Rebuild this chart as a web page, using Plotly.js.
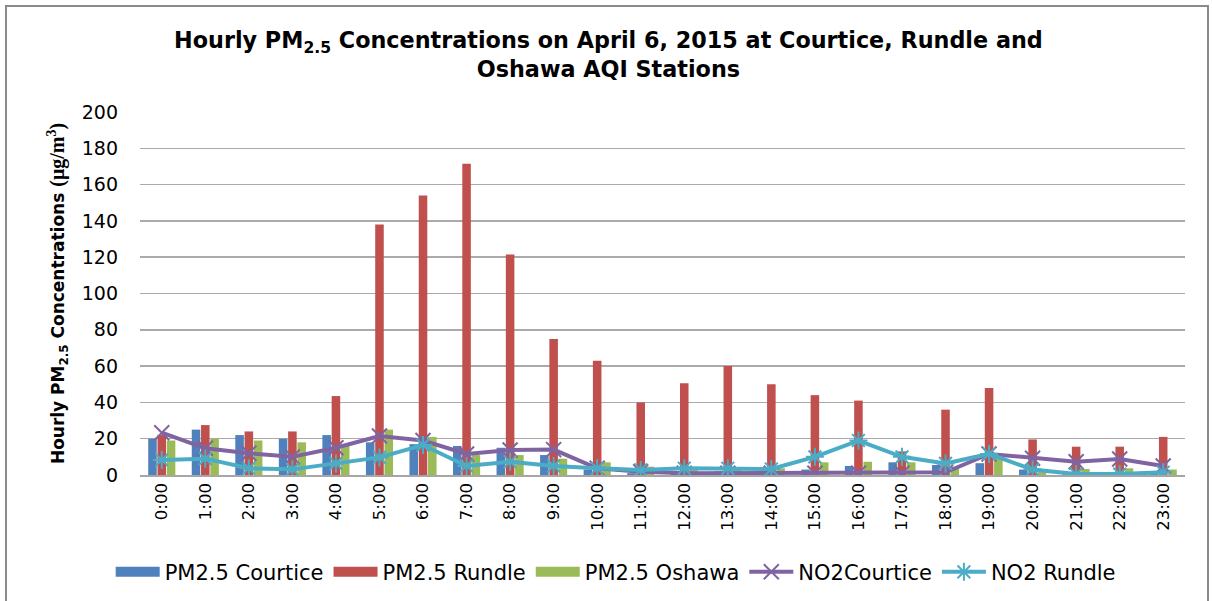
<!DOCTYPE html>
<html>
<head>
<meta charset="utf-8">
<script src="https://cdn.plot.ly/plotly-3.0.1.min.js"></script>
<style>
  html, body { margin: 0; padding: 0; background: #fff; }
  #wrap { position: relative; width: 1212px; height: 601px; }
  #chart { position: absolute; left: 0; top: 0; width: 1212px; height: 601px; }
  #frame { position: absolute; left: 5px; top: 5px; width: 1204px; height: 600px; border: 2px solid #8a8a8a; border-bottom: none; box-sizing: border-box; pointer-events: none; }
</style>
</head>
<body>
<div id="wrap">
  <div id="chart"></div>
  <div id="frame"></div>
</div>
<script>
const hours = ["0:00","1:00","2:00","3:00","4:00","5:00","6:00","7:00","8:00","9:00","10:00","11:00",
               "12:00","13:00","14:00","15:00","16:00","17:00","18:00","19:00","20:00","21:00","22:00","23:00"];
const pmCourtice = [20,25,22,20,22,18,17,16,15,11,3,1,2,2,2,3,5,7,5.5,6.5,3,1,1,1];
const pmRundle   = [22,27.5,24,24,43.5,138,154,171.5,121.5,75,63,40,50.5,60,50,44,41,13,36,48,19.6,15.6,15.6,21];
const pmOshawa   = [19,20,19,18,16,25,21,11,11,9,7,4.6,3.5,3.5,3.7,7,7.3,7,4.5,10,3.3,3.3,3.7,3];
const no2Courtice = [23.3,14.7,12,10,15,21.5,19,11.6,13.8,14,3.7,1.8,1,1,1,1,1,1,1.5,11.6,9.2,7.3,8.8,5];
const no2Rundle   = [8.3,9,3.7,3.1,6.4,9.7,16.5,5,7.3,5,3.7,2.8,3.7,3.7,3.3,10,19,10,6.4,11.6,3,0.5,0.5,1.5];
const yTicks = [0,20,40,60,80,100,120,140,160,180,200];
const barNames = ['PM2.5 Courtice','PM2.5 Rundle','PM2.5 Oshawa'];
const barColors = ['#4F81BD','#C0504D','#9BBB59'];

const FONT = "'DejaVu Sans', sans-serif";
const barSeries = [pmCourtice, pmRundle, pmOshawa];

const traces = [];
barSeries.forEach((ys, i) => {
  traces.push({type:'bar', name:barNames[i], x:hours, y:ys, marker:{color:barColors[i]},
               legendgroup:'g'+i, showlegend:false});
});
// legend swatches for the bar series (wide flat rectangles as in the reference)
barSeries.forEach((ys, i) => {
  traces.push({type:'scatter', mode:'lines', name:barNames[i], x:[null], y:[null],
               line:{color:barColors[i], width:10}, legendgroup:'g'+i, showlegend:true,
               hoverinfo:'skip'});
});
traces.push({type:'scatter', mode:'lines+markers', name:'NO2Courtice', x:hours, y:no2Courtice,
   line:{color:'#8064A2', width:4},
   marker:{symbol:'x-thin-open', size:15, color:'#8064A2', line:{color:'#8064A2', width:2}}});
traces.push({type:'scatter', mode:'lines+markers', name:'NO2 Rundle', x:hours, y:no2Rundle,
   line:{color:'#4BACC6', width:4},
   marker:{symbol:'asterisk-open', size:15, color:'#4BACC6', line:{color:'#4BACC6', width:2}}});

const layout = {
  width:1212, height:601,
  paper_bgcolor:'#ffffff', plot_bgcolor:'#ffffff',
  margin:{l:140, r:27, t:112, b:126},
  font:{family:FONT, color:'#000000', size:18},
  title:{
    text:'<b>Hourly PM<sub>2.5</sub> Concentrations on April 6, 2015 at Courtice, Rundle and<br>Oshawa AQI Stations</b>',
    x:0.502, xanchor:'center', xref:'container', y:0.92, yanchor:'top', yref:'container',
    font:{family:FONT, size:22.3, color:'#000000'}
  },
  barmode:'group', bargap:0.36, bargroupgap:0.08,
  xaxis:{
    type:'category', range:[-0.5, 23.5], tickangle:-90, showgrid:false,
    showline:true, linecolor:'#a6a6a6', linewidth:1.5,
    ticks:'', tickfont:{family:FONT, size:16.5, color:'#000'}, automargin:false
  },
  yaxis:{
    range:[0,200], tickvals:yTicks, ticktext:yTicks.map(String),
    showgrid:true, gridcolor:'#aaaaaa', gridwidth:1.5,
    zeroline:false, showline:false, ticks:'',
    tickfont:{family:FONT, size:19, color:'#000'}, ticklabelstandoff:21,
    title:{text:'<b>Hourly PM<sub>2.5</sub> Concentrations <span style="font-family:\'Liberation Serif\',serif;font-size:20px">(μg/m<sup>3</sup>)</span></b>',
           font:{family:FONT, size:17, color:'#000'}, standoff:12},
    automargin:false
  },
  legend:{orientation:'h', xref:'container', x:0.508, xanchor:'center',
          yref:'container', y:0.048, yanchor:'middle',
          font:{family:FONT, size:21, color:'#000'}, itemwidth:44, traceorder:'normal'},
  showlegend:true
};

Plotly.newPlot('chart', traces, layout, {displayModeBar:false, staticPlot:true});
</script>
</body>
</html>
